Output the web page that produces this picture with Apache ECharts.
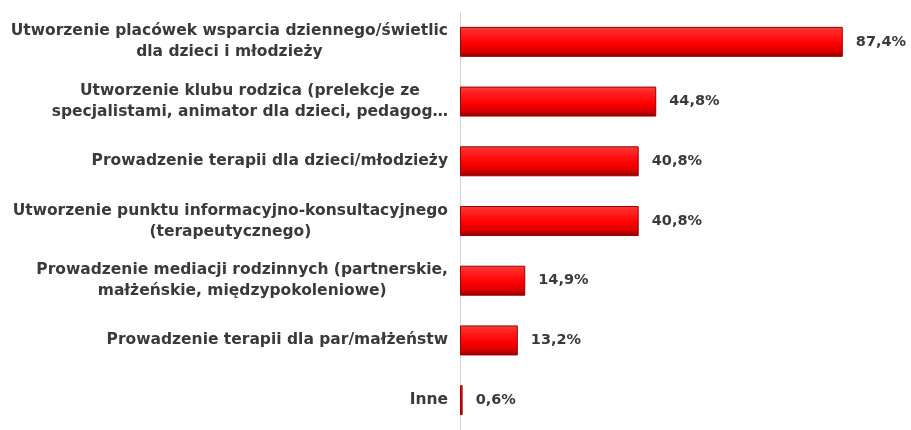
<!DOCTYPE html>
<html>
<head>
<meta charset="utf-8">
<script src="https://cdn.jsdelivr.net/npm/echarts@6/dist/echarts.min.js"></script>
<style>
  html, body { margin: 0; padding: 0; background: #ffffff; }
  #chart { width: 911px; height: 430px; }
</style>
</head>
<body>
<div id="chart"></div>
<script>
// Survey answers: proposed forms of family support (% of respondents)
const categories = [
  'Utworzenie placówek wsparcia dziennego/świetlic\ndla dzieci i młodzieży',
  'Utworzenie klubu rodzica (prelekcje ze\nspecjalistami, animator dla dzieci, pedagog…',
  'Prowadzenie terapii dla dzieci/młodzieży',
  'Utworzenie punktu informacyjno-konsultacyjnego\n(terapeutycznego)',
  'Prowadzenie mediacji rodzinnych (partnerskie,\nmałżeńskie, międzypokoleniowe)',
  'Prowadzenie terapii dla par/małżeństw',
  'Inne'
];
const values = [87.4, 44.8, 40.8, 40.8, 14.9, 13.2, 0.6];

const chart = echarts.init(document.getElementById('chart'));

const fontFamily = '"DejaVu Sans", "Open Sans", sans-serif';

chart.setOption({
  backgroundColor: '#ffffff',
  animation: false,
  grid: { left: 460, right: 13, top: 12, bottom: -7 },
  xAxis: {
    type: 'value',
    min: 0,
    max: 100,
    show: false
  },
  yAxis: {
    type: 'category',
    data: categories,
    inverse: true,
    axisTick: { show: false },
    axisLine: { show: true, lineStyle: { color: '#d4d4d4', width: 1 } },
    axisLabel: {
      margin: 12,
      align: 'right',
      // each line is centred inside the label block
      formatter: function (v) {
        return v.split('\n').map(function (l) { return '{c|' + l + '}'; }).join('\n');
      },
      rich: {
        c: {
          align: 'center',
          fontFamily: fontFamily,
          fontWeight: 'bold',
          fontSize: 15.5,
          lineHeight: 21,
          color: '#3a3a3a'
        }
      }
    }
  },
  series: [{
    type: 'bar',
    data: values,
    barWidth: 30,
    itemStyle: {
      borderColor: '#9a0000',
      borderWidth: 1,
      color: new echarts.graphic.LinearGradient(0, 0, 0, 1, [
        { offset: 0, color: '#e84848' },
        { offset: 0.12, color: '#ff2a2a' },
        { offset: 0.55, color: '#ff0000' },
        { offset: 0.82, color: '#d80000' },
        { offset: 1, color: '#8c0000' }
      ])
    },
    label: {
      show: true,
      position: 'right',
      distance: 13,
      fontFamily: fontFamily,
      fontWeight: 'bold',
      fontSize: 14.5,
      color: '#3a3a3a',
      formatter: function (p) {
        return p.value.toFixed(1).replace('.', ',') + '%';
      }
    }
  }]
});
</script>
</body>
</html>
